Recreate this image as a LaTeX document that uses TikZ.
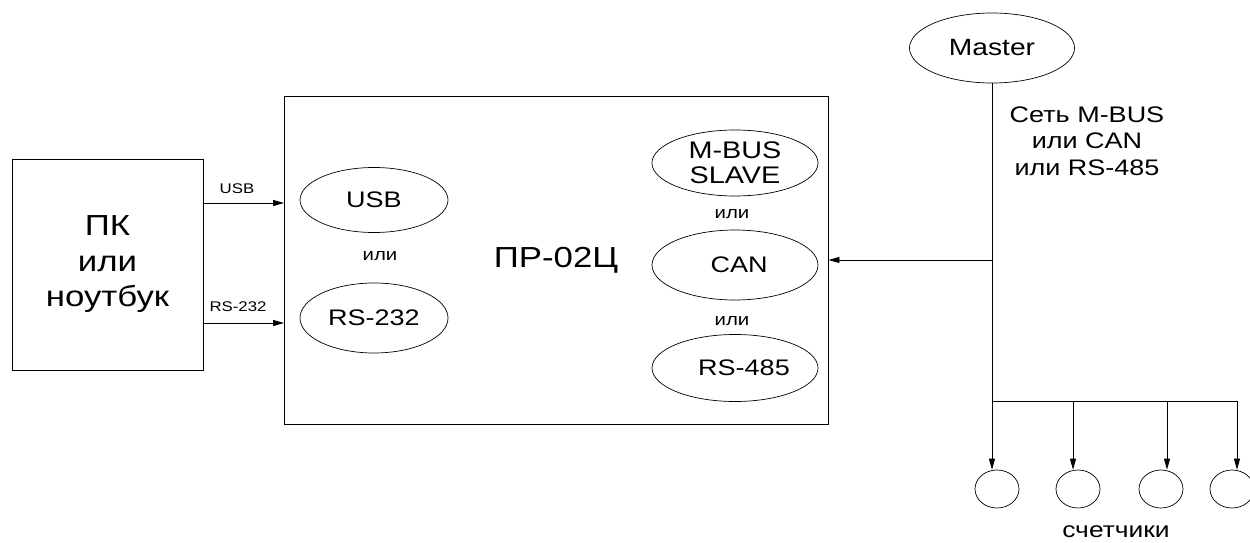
\documentclass[tikz,border=0pt]{standalone}
\usepackage{fontspec}
\setmainfont{Liberation Sans}[FakeStretch=1.2]
\usetikzlibrary{positioning}
\usetikzlibrary{arrows.meta}
\usetikzlibrary{shapes.geometric}

\begin{document}
\begin{tikzpicture}[x=1pt,y=-1pt,
    box/.style={draw, line width=0.9pt, inner sep=0pt, align=center},
    port/.style={draw, ellipse, line width=0.7pt, inner sep=0pt, align=center, font=\fontsize{22.5}{25}\selectfont},
    ili/.style={font=\fontsize{17}{20}\selectfont, anchor=base},
    lbl/.style={font=\fontsize{14}{17}\selectfont, anchor=base},
    arr/.style={-{Triangle[length=11pt,width=6pt]}, line width=0.8pt}]

    \useasboundingbox (0,0) rectangle (1250,543);

    \node[box, minimum width=191pt, minimum height=211pt, font=\fontsize{29}{35.5}\selectfont] (pc) at (107.5,264.5) {ПК\\или\\ноутбук};
    \node[box, minimum width=544pt, minimum height=328pt, font=\fontsize{29}{35}\selectfont] (dev) at (556,260) {ПР-02Ц};

    \node[port, minimum width=148pt, minimum height=65pt] (usb) at (374,200) {USB};
    \node[ili] (or1) at (380,260) {или};
    \node[port, minimum width=148pt, minimum height=70pt] (rs232) at (374,318) {RS-232};

    \node[port, minimum width=166pt, minimum height=66pt, font=\fontsize{24}{25}\selectfont] (mbus) at (735,163) {M-BUS\\SLAVE};
    \node[ili] (or2) at (732,218) {или};
    \node[port, minimum width=166pt, minimum height=70pt] (can) at (735,265) {\hspace*{8pt}CAN};
    \node[ili] (or3) at (732,325) {или};
    \node[port, minimum width=166pt, minimum height=67pt] (rs485) at (735,368) {\hspace*{18pt}RS-485};

    \coordinate (usbin) at (284,203);
    \coordinate (rsin) at (284,323);
    \draw[arr] (pc.east |- usbin) -- (usbin);
    \draw[arr] (pc.east |- rsin) -- (rsin);
    \node[lbl] (usblbl) at (237,193) {USB};
    \node[lbl] (rslbl) at (238,311) {RS-232};

    \node[port, minimum width=165pt, minimum height=70pt, font=\fontsize{23.5}{25}\selectfont] (master) at (992,48) {Master};
    \node[align=center, font=\fontsize{22.5}{26.5}\selectfont] (net) at (1087,141) {Сеть M-BUS\\или CAN\\или RS-485};

    \coordinate (tap) at (992,260);
    \coordinate (split) at (992,401);
    \draw[line width=0.8pt] (master.south) -- (split);
    \draw[arr] (tap) -- (dev.east |- tap);

\foreach \i/\dx/\mx in {1/992/997, 2/1073/1078, 3/1167/1161, 4/1237/1232}
{
    \node[draw, ellipse, line width=0.7pt, inner sep=0pt, minimum width=44pt, minimum height=38pt] (m\i) at (\mx,489) {};
    \coordinate (d\i) at (\dx,401);
    \draw[arr] (d\i) -- (d\i |- m\i.north);
}
    \draw[line width=0.8pt] (split) -- (d4);

    \node[font=\fontsize{22}{26}\selectfont, anchor=base] (cnt) at (1116,537) {счетчики};

\end{tikzpicture}
\end{document}
